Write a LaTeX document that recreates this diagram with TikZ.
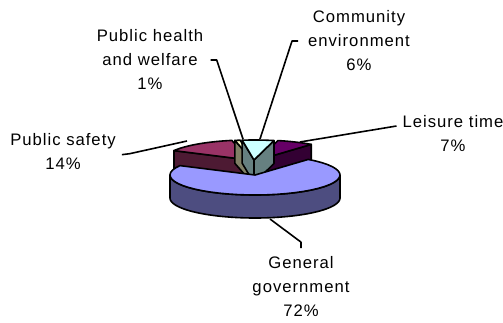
\documentclass[tikz,border=0pt]{standalone}
\usepackage{fontspec}
\setmainfont{Liberation Sans}[LetterSpace=6]
\definecolor{ggtop}{HTML}{9999FF}
\definecolor{ggside}{HTML}{4D4D80}
\definecolor{pstop}{HTML}{993366}
\definecolor{psside}{HTML}{4D1A33}
\definecolor{hwtop}{HTML}{FFFFCC}
\definecolor{hwside}{HTML}{808066}
\definecolor{cetop}{HTML}{CCFFFF}
\definecolor{ceside}{HTML}{668080}
\definecolor{lttop}{HTML}{660066}
\definecolor{ltside}{HTML}{330033}
\def\rx{85}
\def\ry{20}
\def\hh{23}
\newcommand{\pietop}[5]{\filldraw[fill=#5] (#1,#2) -- plot[domain=#3:#4,samples=40] ({#1+\rx*sin(\x)},{#2-\ry*cos(\x)}) -- cycle;}
\newcommand{\pieface}[4]{\filldraw[fill=#4] (#1,#2) -- ({#1+\rx*sin(#3)},{#2-\ry*cos(#3)}) -- ({#1+\rx*sin(#3)},{#2-\ry*cos(#3)+\hh}) -- (#1,{#2+\hh}) -- cycle;}
\tikzset{
  lbl/.style={align=center,font=\fontsize{12.5}{18}\selectfont,inner sep=2pt},
  leader/.style={draw,line width=1.2pt},
}
\begin{document}
\begin{tikzpicture}[x=0.75pt,y=-0.75pt,line width=1.2pt,line join=round]
    \useasboundingbox (0,0) rectangle (503,322);
    \pieface{249}{160}{298}{psside}
    \pietop{249}{160}{298}{348.4}{pstop}
    \pieface{252}{160}{348.4}{hwside}
    \pietop{252}{160}{348.4}{352}{hwtop}
    \pieface{258}{160}{38.8}{ltside}
    \pietop{258}{160}{13.6}{38.8}{lttop}
    \pieface{254}{160}{352}{ceside}
    \pieface{254}{160}{13.6}{ceside}
    \pietop{254}{160}{-8}{13.6}{cetop}
    \filldraw[fill=ggside] plot[domain=90:270,samples=60] ({255+\rx*sin(\x)},{175-\ry*cos(\x)})
        -- plot[domain=270:90,samples=60] ({255+\rx*sin(\x)},{175-\ry*cos(\x)+\hh}) -- cycle;
    \pietop{255}{175}{38.8}{298}{ggtop}
    \node[lbl] (hw) at (150,60) {Public health\\and welfare\\1\%};
    \node[lbl] (ce) at (359,41) {Community\\environment\\6\%};
    \node[lbl] (lt) at (453,134) {Leisure time\\7\%};
    \node[lbl] (ps) at (63,152) {Public safety\\14\%};
    \node[lbl] (gg) at (301,287) {General\\government\\72\%};
    \coordinate (hwtip) at (243,139);
    \coordinate (cetip) at (260,139);
    \coordinate (lttip) at (300,142);
    \coordinate (pstip) at (187,141);
    \coordinate (ggtip) at (270,219);
    \draw[leader] ([xshift=3pt]hw.east) -- ++(6,0) -- (hwtip);
    \draw[leader] ([xshift=-5pt]ce.west) -- ++(-6,0) -- (cetip);
    \draw[leader] ([xshift=-2pt,yshift=6pt]lt.west) -- (lttip);
    \draw[leader] ([xshift=2pt,yshift=-2pt]ps.east) -- ++(8,-1) -- (pstip);
    \draw[leader] ([yshift=4pt]gg.north) -- ++(0,-6) -- (ggtip);
\end{tikzpicture}
\end{document}
